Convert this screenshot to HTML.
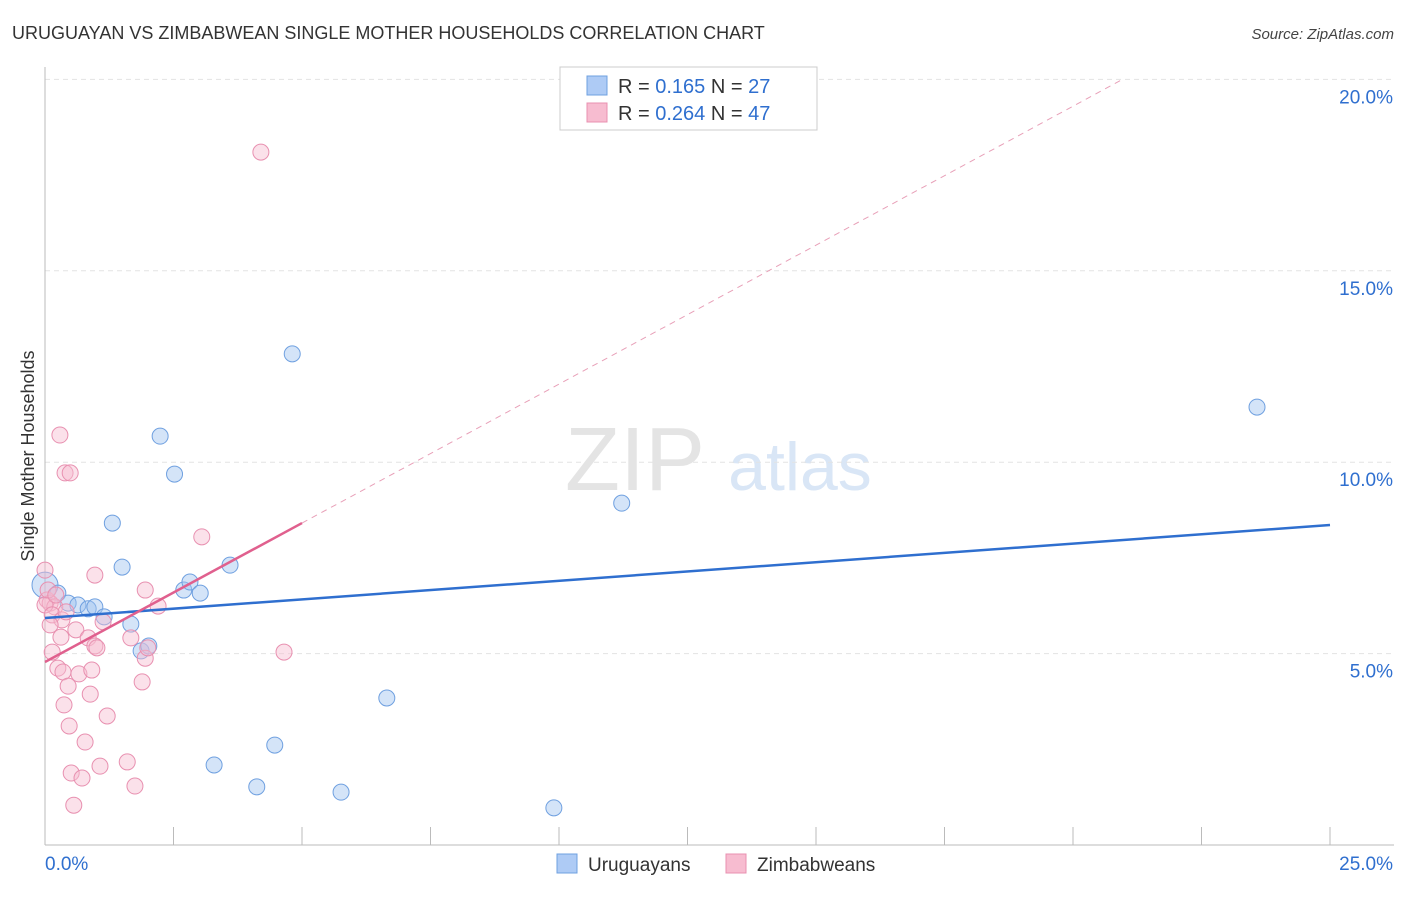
<!DOCTYPE html>
<html><head><meta charset="utf-8"><style>
body{margin:0;background:#fff;font-family:"Liberation Sans",sans-serif}
svg text{font-family:"Liberation Sans",sans-serif}
</style></head><body>
<svg id="chart" width="1406" height="892" xmlns="http://www.w3.org/2000/svg">
<text x="12" y="39" font-size="18" fill="#333">URUGUAYAN VS ZIMBABWEAN SINGLE MOTHER HOUSEHOLDS CORRELATION CHART</text>
<text x="1394" y="39" font-size="15" fill="#444" text-anchor="end" font-style="italic">Source: ZipAtlas.com</text>
<g>
<text x="635" y="490" font-size="90" fill="#e4e4e4" text-anchor="middle" font-family="Liberation Serif">ZIP</text>
<text x="800" y="490" font-size="68" fill="#d9e6f6" text-anchor="middle">atlas</text>
</g>
<g id="grid"></g>
<g id="axes"></g>
<g id="marks"></g>
<text transform="translate(34,456) rotate(-90)" font-size="18" fill="#333" text-anchor="middle">Single Mother Households</text>
<g>
<rect x="560" y="67" width="257" height="63" fill="#fff" stroke="#ccc"/>
<rect x="587" y="76" width="20" height="19" fill="#aecbf5" stroke="#6fa0e0"/>
<rect x="587" y="103" width="20" height="19" fill="#f7bcd0" stroke="#e890b0"/>
<text x="618" y="93" font-size="20" fill="#333">R = <tspan fill="#2f6fcf"> 0.165</tspan>   N = <tspan fill="#2f6fcf">27</tspan></text>
<text x="618" y="120" font-size="20" fill="#333">R = <tspan fill="#2f6fcf">0.264</tspan>   N = <tspan fill="#2f6fcf">47</tspan></text>
</g>
<g>
<rect x="557" y="854" width="20" height="19" fill="#aecbf5" stroke="#6fa0e0"/>
<text x="588" y="871" font-size="19" fill="#333">Uruguayans</text>
<rect x="726" y="854" width="20" height="19" fill="#f7bcd0" stroke="#e890b0"/>
<text x="757" y="871" font-size="19" fill="#333">Zimbabweans</text>
</g>
</svg>
<script>
const blueX=[0.0,0.25,0.45,0.64,0.84,0.97,1.15,1.31,1.50,1.67,1.87,2.02,2.24,2.52,2.70,2.82,3.02,3.60,3.29,4.12,4.47,4.81,5.76,6.65,9.90,11.22,23.58];
const blueY=[6.79,6.58,6.32,6.27,6.17,6.22,5.96,8.41,7.26,5.77,5.07,5.20,10.68,9.69,6.66,6.87,6.58,7.31,2.09,1.52,2.61,12.83,1.38,3.84,0.97,8.93,11.44];
const pinkX=[0,0.04,0.10,0.14,0.19,0.25,0.29,0.31,0.35,0.37,0.39,0.45,0.49,0.47,0.51,0.56,0.60,0.66,0.72,0.78,0.84,0.88,0.91,0.97,0.97,1.01,1.07,1.13,1.21,1.60,1.67,1.75,1.89,1.95,1.95,2.00,2.20,3.05,4.20,4.65,0,0.06,0.14,0.21,0.33,0.10,0.41];
const pinkY=[7.18,6.40,6.32,5.04,6.22,4.62,10.71,5.43,4.52,3.66,9.72,4.15,9.72,3.11,1.88,1.04,5.62,4.47,1.75,2.69,5.41,3.94,4.57,7.05,5.20,5.15,2.06,5.83,3.37,2.17,5.41,1.54,4.26,6.66,4.88,5.15,6.24,8.05,18.10,5.04,6.27,6.66,6.01,6.53,5.88,5.75,6.09];
const yTicks=[5,10,15,20];
const yTickLabels=["5.0%","10.0%","15.0%","20.0%"];
const xTicks=[0,2.5,5,7.5,10,12.5,15,17.5,20,22.5,25];
const blueTrend=[5.93,8.36];   // y at x=0 and x=25
const pinkTrend=[4.78,0.726];  // intercept, slope
const NS="http://www.w3.org/2000/svg";
const sx=v=>45+v/25*1285;
const sy=v=>845-v/5*191.4;
function mk(tag,attrs,parent){const e=document.createElementNS(NS,tag);for(const k in attrs)e.setAttribute(k,attrs[k]);parent.appendChild(e);return e;}
const grid=document.getElementById('grid'),axes=document.getElementById('axes'),marks=document.getElementById('marks');
yTicks.forEach((t,i)=>{
  const l=mk('line',{x1:45,x2:1394,y1:sy(t),y2:sy(t),stroke:'#e3e3e3','stroke-dasharray':'5,4'},grid);
  
  
  const tx=mk('text',{x:1393,y:sy(t)+24,'font-size':19,fill:'#2f6fcf','text-anchor':'end'},axes);
  tx.textContent=yTickLabels[i];
  
  
});
const ax=mk('line',{x1:45,x2:1394,y1:845,y2:845,stroke:'#bbb'},axes);


const ay=mk('line',{x1:45,x2:45,y1:67,y2:845,stroke:'#bbb'},axes);


xTicks.forEach(t=>{
  const l=mk('line',{x1:sx(t),x2:sx(t),y1:827,y2:845,stroke:'#bbb'},axes);
  
  
});
const x0=mk('text',{x:45,y:870,'font-size':19,fill:'#2f6fcf'},axes);x0.textContent='0.0%';


const x1=mk('text',{x:1393,y:870,'font-size':19,fill:'#2f6fcf','text-anchor':'end'},axes);x1.textContent='25.0%';


blueX.forEach((x,i)=>{
  const c=mk('circle',{cx:sx(x),cy:sy(blueY[i]),r:i===0?13:8,fill:'rgba(160,195,240,0.45)',stroke:'#6fa0e0','stroke-width':1},marks);
  
  
});
pinkX.forEach((x,i)=>{
  const c=mk('circle',{cx:sx(x),cy:sy(pinkY[i]),r:8,fill:'rgba(247,188,208,0.45)',stroke:'#e890b0','stroke-width':1},marks);
  
  
});
const bl=mk('line',{x1:sx(0),y1:sy(blueTrend[0]),x2:sx(25),y2:sy(blueTrend[1]),stroke:'#2f6fcf','stroke-width':2.5},marks);


const pEnd=(20-pinkTrend[0])/pinkTrend[1];
const pd=mk('line',{x1:sx(5),y1:sy(pinkTrend[0]+pinkTrend[1]*5),x2:sx(pEnd),y2:sy(20),stroke:'#e8a0b8','stroke-width':1,'stroke-dasharray':'6,5'},marks);


const pl=mk('line',{x1:sx(0),y1:sy(pinkTrend[0]),x2:sx(5),y2:sy(pinkTrend[0]+pinkTrend[1]*5),stroke:'#e0608e','stroke-width':2.5},marks);


</script>
</body></html>
